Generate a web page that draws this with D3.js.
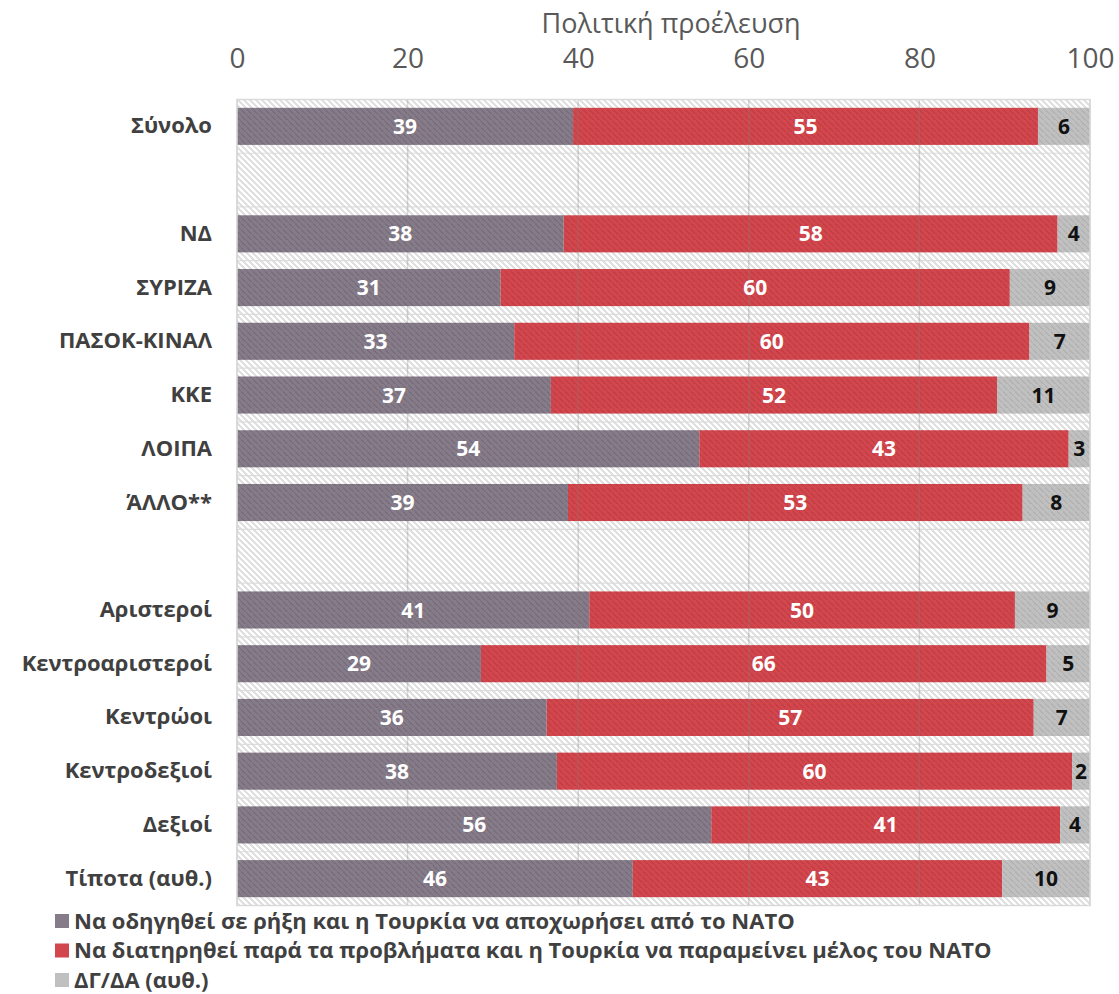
<!DOCTYPE html>
<html><head><meta charset="utf-8">
<script src="https://cdn.jsdelivr.net/npm/d3@7"></script>
<style>body{margin:0;background:#fff;} text{font-family:"Open Sans",sans-serif;}</style>
</head><body><svg id="c" width="1119" height="994"></svg>
<script>
const categories = ["Σύνολο","_b1","ΝΔ","ΣΥΡΙΖΑ","ΠΑΣΟΚ-ΚΙΝΑΛ","ΚΚΕ","ΛΟΙΠΑ","ΆΛΛΟ**","_b2","Αριστεροί","Κεντροαριστεροί","Κεντρώοι","Κεντροδεξιοί","Δεξιοί","Τίποτα (αυθ.)"];
const seriesNames = ["Να οδηγηθεί σε ρήξη και η Τουρκία να αποχωρήσει από το ΝΑΤΟ","Να διατηρηθεί παρά τα προβλήματα και η Τουρκία να παραμείνει μέλος του ΝΑΤΟ","ΔΓ/ΔΑ (αυθ.)"];
const ruptureValues = [39.4,null,38.3,30.9,32.5,36.8,54.2,38.8,null,41.3,28.6,36.3,37.5,55.6,46.4];
const remainValues  = [54.5,null,57.9,59.7,60.4,52.3,43.3,53.3,null,49.9,66.3,57.1,60.4,40.9,43.3];
const dkValues      = [6.1,null,3.8,9.4,7.1,10.9,2.5,7.9,null,8.8,5.1,6.6,2.1,3.5,10.3];
const xTicks = [0,20,40,60,80,100];
const axisTitle = "Πολιτική προέλευση";

const colors = ["#857b89","#d2474d","#c0c0c0"];
const hatchColors = ["#776d7b","#c23d44","#b2b2b2"];
const labelColors = ["#ffffff","#ffffff","#111111"];

const svg = d3.select("#c");
const L = 237, R = 1090, T = 99.5, B = 905.5;
const x = d3.scaleLinear().domain([0,100]).range([L,R]);
const y = d3.scaleBand().domain(categories).range([T,B]).paddingInner(0.31).paddingOuter(0.155);

const defs = svg.append("defs");
function hatch(id, bg, fg, size, w){
  const p = defs.append("pattern").attr("id",id).attr("patternUnits","userSpaceOnUse")
    .attr("width",size).attr("height",size);
  p.append("rect").attr("width",size).attr("height",size).attr("fill",bg);
  p.append("path").attr("d",`M0,0 L${size},${size} M${-size},0 L${size},${2*size} M0,${-size} L${2*size},${size}`)
    .attr("stroke",fg).attr("stroke-width",w).attr("shape-rendering","crispEdges");
}
hatch("bgHatch","#ffffff","#e0e0e0",6,1.6);
colors.forEach((c,i)=>hatch("h"+i,c,hatchColors[i],6,1.4));

// plot background
svg.append("rect").attr("x",L).attr("y",T).attr("width",R-L).attr("height",B-T)
  .attr("fill","url(#bgHatch)");

// horizontal separators at band boundaries
d3.range(0,categories.length+1).forEach(k=>{
  const yy = T + k*(B-T)/categories.length;
  svg.append("line").attr("x1",L).attr("x2",R).attr("y1",yy).attr("y2",yy)
    .attr("stroke","#dcdcdc").attr("stroke-width",1.2);
});

// stacked data
const rows = categories.map((c,i)=>({cat:c, vals:[ruptureValues[i],remainValues[i],dkValues[i]]}))
  .filter(r=>r.vals[0]!==null);
const segs = [];
rows.forEach(r=>{let acc=0; r.vals.forEach((v,s)=>{segs.push({cat:r.cat,s,v,x0:acc,x1:acc+v}); acc+=v;});});

svg.append("g").selectAll("rect").data(segs).join("rect")
  .attr("x",d=>x(d.x0)).attr("width",d=>x(d.x1)-x(d.x0))
  .attr("y",d=>y(d.cat)).attr("height",y.bandwidth())
  .attr("fill",d=>`url(#h${d.s})`);

// vertical gridlines (on top, translucent)
svg.append("g").selectAll("line").data(xTicks).join("line")
  .attr("x1",d=>x(d)).attr("x2",d=>x(d)).attr("y1",T).attr("y2",B)
  .attr("stroke","#808080").attr("stroke-opacity",0.3).attr("stroke-width",1.5);

// plot border
svg.append("rect").attr("x",L).attr("y",T).attr("width",R-L).attr("height",B-T)
  .attr("fill","none").attr("stroke","#d9d9d9").attr("stroke-width",1.5);

// value labels
svg.append("g").selectAll("text").data(segs).join("text")
  .attr("x",d=>x((d.x0+d.x1)/2)).attr("y",d=>y(d.cat)+y.bandwidth()/2)
  .attr("dy","0.36em").attr("text-anchor","middle")
  .attr("font-size",21).attr("font-weight",700).attr("fill",d=>labelColors[d.s])
  .text(d=>Math.round(d.v));

// category labels
const yAxis = d3.axisLeft(y).tickSize(0).tickPadding(25)
  .tickFormat(d=>d.startsWith("_")?"":d);
const ya = svg.append("g").attr("transform",`translate(${L},0)`).call(yAxis);
ya.select(".domain").remove();
ya.selectAll("text").attr("font-size",22).attr("font-weight",700).attr("fill","#404040")
  .style("font-family","'Open Sans',sans-serif");

// top axis
const xAxis = d3.axisTop(x).tickValues(xTicks).tickSize(0).tickPadding(0);
const xa = svg.append("g").attr("transform",`translate(0,68)`).call(xAxis);
xa.select(".domain").remove();
xa.selectAll("text").attr("font-size",28).attr("fill","#595959").attr("dy",0)
  .style("font-family","'Open Sans',sans-serif");

svg.append("text").attr("x",671).attr("y",33).attr("text-anchor","middle")
  .attr("font-size",27).attr("fill","#595959").text(axisTitle);

// legend
const lg = svg.append("g").selectAll("g").data(seriesNames).join("g")
  .attr("transform",(d,i)=>`translate(55,${921+i*29.5})`);
lg.append("rect").attr("x",0).attr("y",-7).attr("width",14).attr("height",14)
  .attr("fill",(d,i)=>colors[i]);
lg.append("text").attr("x",19).attr("y",0).attr("dy","0.36em")
  .attr("font-size",22).attr("font-weight",700).attr("fill","#404040").text(d=>d);
</script></body></html>
